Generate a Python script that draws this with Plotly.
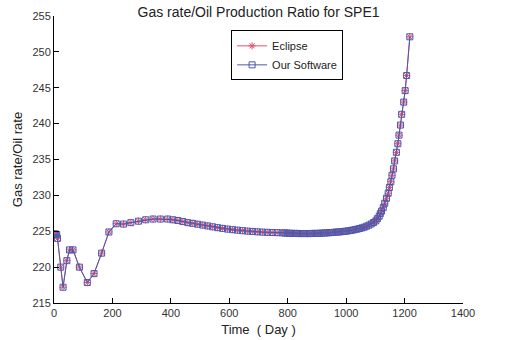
import plotly.graph_objects as go

# Time (days)
time_days = [
    0, 3, 6, 9, 12, 23, 31, 44, 53, 65, 87, 114, 137, 163, 188, 213, 238, 263, 289, 314, 339, 364, 389,
    407, 424, 441, 458, 475, 492, 509, 526, 543, 560, 577, 594, 611, 628, 645, 662, 679, 696, 713, 730, 747, 764, 781,
    790, 798, 806, 814, 822, 830, 838, 846, 854, 862, 870, 878, 886, 894, 902, 910, 918, 926, 934, 942,
    950, 958, 966, 974, 982, 990, 998, 1006, 1014, 1022, 1030, 1038, 1046, 1054, 1062, 1070, 1078, 1086, 1094, 1102,
    1107, 1113, 1117, 1121, 1127, 1132, 1138, 1144, 1148, 1153, 1157, 1162, 1166, 1172, 1177, 1181, 1186, 1190,
    1197, 1202, 1207, 1218,
]

# Gas rate / Oil rate (Eclipse)
eclipse_ratio = [
    224.6, 224.6, 224.6, 224.55, 224.0, 220.0, 217.2, 220.9, 222.4, 222.4, 220.0, 217.85, 219.1, 221.95, 224.9,
    226.05, 226.0, 226.2, 226.4, 226.6, 226.7, 226.7, 226.7,
    226.6, 226.5, 226.35, 226.2, 226.1, 225.98, 225.86, 225.74, 225.62, 225.5, 225.4, 225.3, 225.22, 225.15, 225.08,
    225.02, 224.97, 224.92, 224.88, 224.85, 224.82, 224.8, 224.78,
    224.75, 224.75, 224.72, 224.7, 224.7, 224.7, 224.68, 224.68, 224.68, 224.68, 224.68, 224.68, 224.7, 224.7,
    224.7, 224.72, 224.74, 224.76, 224.78, 224.8,
    224.82, 224.85, 224.88, 224.9, 224.93, 224.97, 225.0, 225.05, 225.1, 225.16, 225.23, 225.3, 225.38, 225.47,
    225.57, 225.7, 225.85, 226.02, 226.22, 226.45,
    226.75, 227.1, 227.45, 227.8, 228.3, 228.9, 229.6, 230.3, 231.1, 231.9, 232.8, 233.7, 234.8, 236.0, 237.2,
    238.4, 239.8, 241.3, 243.0, 244.6, 246.7, 252.1,
]

# Our Software (overlaps Eclipse in the picture)
software_ratio = list(eclipse_ratio)

x_ticks = [0, 200, 400, 600, 800, 1000, 1200, 1400]
y_ticks = [215, 220, 225, 230, 235, 240, 245, 250, 255]

FONT = "Liberation Sans, Arial, Helvetica, sans-serif"
RED = "#e0506e"
BLUE = "#4a5ab0"

fig = go.Figure()
fig.add_trace(go.Scatter(
    x=time_days, y=eclipse_ratio, name="Eclipse", mode="lines+markers",
    line=dict(color=RED, width=1),
    marker=dict(symbol="asterisk-open", size=6, color=RED, line=dict(color=RED, width=1)),
))
fig.add_trace(go.Scatter(
    x=time_days, y=software_ratio, name="Our Software", mode="lines+markers",
    line=dict(color=BLUE, width=1),
    marker=dict(symbol="square-open", size=6, color=BLUE, line=dict(color=BLUE, width=1)),
))

axis_common = dict(
    showline=True, linecolor="black", linewidth=1, mirror=False,
    ticks="inside", ticklen=5, tickcolor="black", tickwidth=1,
    showgrid=False, zeroline=False, automargin=False,
    tickfont=dict(family=FONT, size=11, color="#333333"),
)

fig.update_layout(
    width=517, height=340,
    margin=dict(l=54, r=54, t=16, b=37),
    paper_bgcolor="white", plot_bgcolor="white",
    font=dict(family=FONT, color="#222222"),
    title=dict(text="Gas rate/Oil Production Ratio for SPE1", x=0.5, xref="paper",
               y=0.965, yref="container", yanchor="middle",
               font=dict(family=FONT, size=14, color="#222222")),
    xaxis=dict(range=[0, 1400], tickvals=x_ticks, ticktext=[str(v) for v in x_ticks],
               title=dict(text="Time  ( Day )", font=dict(family=FONT, size=13, color="#222222"), standoff=6),
               **axis_common),
    yaxis=dict(range=[215, 255], tickvals=y_ticks, ticktext=[str(v) for v in y_ticks],
               title=dict(text="Gas rate/Oil rate", font=dict(family=FONT, size=13, color="#222222"), standoff=6),
               **axis_common),
    legend=dict(x=0.433, y=0.95, xanchor="left", yanchor="top",
                bordercolor="black", borderwidth=1, bgcolor="white",
                font=dict(family=FONT, size=11, color="#222222"),
                itemwidth=30, tracegroupgap=0),
    showlegend=True,
)

fig.write_html("out.html")
